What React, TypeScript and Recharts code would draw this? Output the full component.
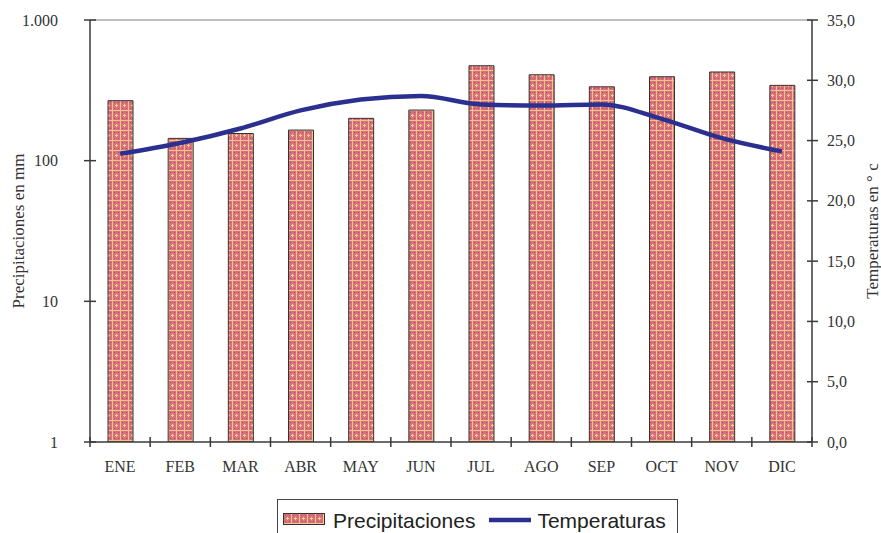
import { ComposedChart, Bar, Line, XAxis, YAxis, Legend, ReferenceLine } from "recharts";

const months = ["ENE", "FEB", "MAR", "ABR", "MAY", "JUN", "JUL", "AGO", "SEP", "OCT", "NOV", "DIC"];
const precipitaciones = [267, 144, 156, 165, 200, 229, 473, 408, 335, 395, 427, 343];
const temperaturas = [23.9, 24.8, 26.0, 27.5, 28.4, 28.7, 28.0, 27.9, 28.0, 26.8, 25.2, 24.1];
const precipTicks = [1, 10, 100, 1000];
const tempTicks = [0, 5, 10, 15, 20, 25, 30, 35];

const data = months.map((m, i) => ({
  mes: m,
  precip: precipitaciones[i],
  temp: temperaturas[i],
}));

const SERIF = '"Liberation Serif", "Times New Roman", serif';
const SANS = '"Liberation Sans", Arial, sans-serif';
const AXIS = "#3a3a3a";
const BLUE = "#2b3090";

const fmtPrecip = (v: number) => v.toLocaleString("de-DE");
const fmtTemp = (v: number) => v.toFixed(1).replace(".", ",");

const LeftTick = (props: any) => {
  const { x, y, payload } = props;
  return (
    <g>
      <line x1={x - 6} x2={x + 6} y1={y} y2={y} stroke={AXIS} strokeWidth={1.5} />
      <text x={x - 32} y={y + 5.5} textAnchor="end" fontFamily={SERIF} fontSize={16} fill="#333">
        {fmtPrecip(payload.value)}
      </text>
    </g>
  );
};

const RightTick = (props: any) => {
  const { x, y, payload } = props;
  return (
    <g>
      <line x1={x - 5} x2={x + 6} y1={y} y2={y} stroke={AXIS} strokeWidth={1.5} />
      <text x={x + 15} y={y + 5.5} textAnchor="start" fontFamily={SERIF} fontSize={16} fill="#333">
        {fmtTemp(payload.value)}
      </text>
    </g>
  );
};

const MonthTick = (props: any) => {
  const { x, y, payload, index, width } = props;
  const band = width / months.length;
  return (
    <g>
      <line x1={x - band / 2} x2={x - band / 2} y1={y - 5} y2={y + 5} stroke={AXIS} strokeWidth={1.5} />
      {index === months.length - 1 && (
        <line x1={x + band / 2} x2={x + band / 2} y1={y - 5} y2={y + 5} stroke={AXIS} strokeWidth={1.5} />
      )}
      <text x={x} y={y + 30} textAnchor="middle" fontFamily={SERIF} fontSize={16} fill="#333">
        {payload.value}
      </text>
    </g>
  );
};

const LegendBox = () => (
  <div
    style={{
      width: 401,
      height: 40,
      boxSizing: "border-box",
      border: "1.5px solid #444",
      background: "#fff",
      display: "flex",
      alignItems: "flex-start",
      paddingTop: 9,
      paddingLeft: 5,
      fontFamily: SANS,
      fontSize: 21,
      color: "#222",
      lineHeight: "24px",
    }}
  >
    <svg width={42} height={12} style={{ marginTop: 4, marginRight: 8 }}>
      <rect x={0.5} y={0.5} width={41} height={11} fill="url(#precipPattern)" stroke="#333" strokeWidth={1} />
    </svg>
    <span>Precipitaciones</span>
    <svg width={42} height={12} style={{ marginTop: 5, marginLeft: 14, marginRight: 6 }}>
      <line x1={0} x2={42} y1={6} y2={6} stroke={BLUE} strokeWidth={4.5} />
    </svg>
    <span>Temperaturas</span>
  </div>
);

export default function App() {
  return (
    <div style={{ width: 881, height: 533, position: "relative", overflow: "hidden" }}>
      <style>{"body{margin:0}"}</style>
      <ComposedChart
        width={881}
        height={533}
        data={data}
        margin={{ top: 20, right: 0, bottom: 0, left: 0 }}
        barSize={25}
      >
        <defs>
          <pattern id="precipPattern" patternUnits="userSpaceOnUse" width={8} height={10}>
            <rect x={0} y={0} width={8} height={10} fill="#d9717d" />
            <rect x={2} y={2} width={1} height={1} fill="#b24e6a" />
            <rect x={6} y={2} width={1} height={1} fill="#b24e6a" />
            <rect x={2} y={8} width={1} height={1} fill="#b24e6a" />
            <rect x={6} y={8} width={1} height={1} fill="#b24e6a" />
            <rect x={3} y={5} width={3} height={1} fill="#f4cf8c" />
            <rect x={4} y={4} width={1} height={3} fill="#f4cf8c" />
            <rect x={0} y={0} width={8} height={1} fill="#f0c48a" />
            <rect x={0} y={0} width={1} height={10} fill="#f0c48a" />
          </pattern>
        </defs>
        <XAxis
          dataKey="mes"
          height={51}
          tickSize={0}
          tickMargin={0}
          stroke={AXIS}
          strokeWidth={1.5}
          tick={<MonthTick />}
          interval={0}
        />
        <YAxis
          yAxisId="left"
          scale="log"
          domain={[1, 1000]}
          ticks={precipTicks}
          allowDataOverflow
          width={90}
          tickSize={0}
          tickMargin={0}
          stroke={AXIS}
          strokeWidth={1.5}
          tick={<LeftTick />}
          label={({ viewBox }: any) => (
            <text
              x={viewBox.x + 18}
              y={viewBox.y + viewBox.height / 2}
              transform={`rotate(-90, ${viewBox.x + 18}, ${viewBox.y + viewBox.height / 2})`}
              textAnchor="middle"
              dominantBaseline="central"
              fontFamily={SERIF}
              fontSize={17}
              fill="#333"
            >
              Precipitaciones en mm
            </text>
          )}
        />
        <YAxis
          yAxisId="right"
          orientation="right"
          domain={[0, 35]}
          ticks={tempTicks}
          width={69}
          tickSize={0}
          tickMargin={0}
          stroke={AXIS}
          strokeWidth={1.5}
          tick={<RightTick />}
          label={({ viewBox }: any) => (
            <text
              x={viewBox.x + 60}
              y={viewBox.y + viewBox.height / 2}
              transform={`rotate(-90, ${viewBox.x + 60}, ${viewBox.y + viewBox.height / 2})`}
              textAnchor="middle"
              dominantBaseline="central"
              fontFamily={SERIF}
              fontSize={17}
              fill="#333"
            >
              Temperaturas en ° c
            </text>
          )}
        />
        <ReferenceLine yAxisId="left" y={1000} stroke="#aaaaaa" strokeWidth={1.5} />
        <Bar
          yAxisId="left"
          dataKey="precip"
          name="Precipitaciones"
          fill="url(#precipPattern)"
          stroke="#333"
          strokeWidth={1}
          isAnimationActive={false}
        />
        <Line
          yAxisId="right"
          dataKey="temp"
          name="Temperaturas"
          type="monotone"
          stroke={BLUE}
          strokeWidth={4.5}
          dot={false}
          isAnimationActive={false}
        />
        <Legend
          content={<LegendBox />}
          wrapperStyle={{ top: 499, left: 277, width: 401, bottom: "auto" }}
        />
      </ComposedChart>
    </div>
  );
}
